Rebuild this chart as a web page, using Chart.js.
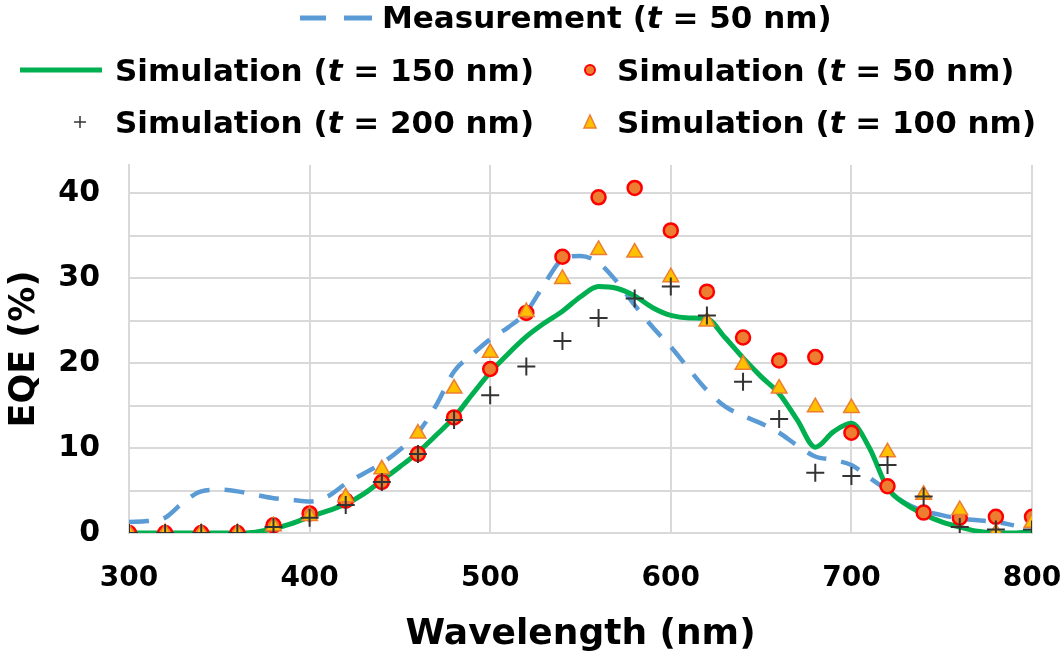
<!DOCTYPE html>
<html>
<head>
<meta charset="utf-8">
<script src="https://cdn.jsdelivr.net/npm/chart.js@4.4.1/dist/chart.umd.min.js"></script>
<style>
  body { margin: 0; background: #fff; }
  #wrap { position: relative; width: 1064px; height: 660px; }
  #eqeChart { position: absolute; left: 0; top: 0; }
  .lg { position: absolute; font-family: "DejaVu Sans", sans-serif; font-weight: bold; font-size: 31px; color: #000; white-space: nowrap; line-height: 36px; }
  .ic { position: absolute; }
</style>
</head>
<body>
<div id="wrap">
  <canvas id="eqeChart" width="1064" height="660"></canvas>

  <svg class="ic" style="left:298px;top:8px" width="80" height="20">
    <line x1="2" y1="10" x2="28" y2="10" stroke="#5B9BD5" stroke-width="5"/>
    <line x1="46" y1="10" x2="74" y2="10" stroke="#5B9BD5" stroke-width="5"/>
  </svg>
  <div class="lg" style="left:382px;top:-1px">Measurement (<i>t</i> = 50 nm)</div>

  <svg class="ic" style="left:18px;top:60px" width="86" height="20">
    <line x1="2" y1="10" x2="84" y2="10" stroke="#00B050" stroke-width="5"/>
  </svg>
  <div class="lg" style="left:115px;top:52px">Simulation (<i>t</i> = 150 nm)</div>

  <svg class="ic" style="left:578px;top:58px" width="24" height="24">
    <circle cx="12" cy="12" r="5" fill="#ED7D31" stroke="#FF0000" stroke-width="2"/>
  </svg>
  <div class="lg" style="left:617px;top:52px">Simulation (<i>t</i> = 50 nm)</div>

  <svg class="ic" style="left:70px;top:112px" width="20" height="20">
    <line x1="10" y1="4" x2="10" y2="16" stroke="#333" stroke-width="1.5"/>
    <line x1="4" y1="10" x2="16" y2="10" stroke="#333" stroke-width="1.5"/>
  </svg>
  <div class="lg" style="left:115px;top:104px">Simulation (<i>t</i> = 200 nm)</div>

  <svg class="ic" style="left:578px;top:110px" width="24" height="24">
    <polygon points="12,5 18,18 6,18" fill="#FFC000" stroke="#ED7D31" stroke-width="1.5"/>
  </svg>
  <div class="lg" style="left:617px;top:104px">Simulation (<i>t</i> = 100 nm)</div>
</div>

<script>
// simulated points, every 20 nm
const markerX = [300, 320, 340, 360, 380, 400, 420, 440, 460, 480, 500, 520, 540,
                 560, 580, 600, 620, 640, 660, 680, 700, 720, 740, 760, 780, 800];
const sim50  = [0, 0, 0, 0, 0.9, 2.3, 3.8, 6.0, 9.3, 13.6, 19.3, 25.9, 32.5,
                39.5, 40.6, 35.6, 28.4, 23.0, 20.3, 20.7, 11.8, 5.5, 2.4, 1.8, 1.9, 1.9];
const sim100 = [0, 0, 0, 0, 0.8, 2.0, 4.2, 7.5, 11.7, 17.0, 21.2, 26.0, 29.9,
                33.3, 33.0, 30.1, 24.9, 19.8, 17.0, 14.8, 14.7, 9.5, 4.5, 2.7, 0, 1.2];
const sim200 = [0, 0, 0, 0, 0.7, 1.8, 3.3, 6.0, 9.3, 13.3, 16.2, 19.6, 22.6,
                25.3, 27.6, 29.0, 25.6, 17.8, 13.4, 7.1, 6.7, 8.0, 4.3, 0.7, 0.4, 0.4];

// t = 150 nm simulation curve, every 10 nm
const curveX = [300, 310, 320, 330, 340, 350, 360, 370, 380, 390, 400, 410, 420, 430, 440,
                450, 460, 470, 480, 490, 500, 510, 520, 530, 540, 550, 560, 570, 580, 590,
                600, 610, 620, 630, 640, 650, 660, 670, 680, 690, 700, 710, 720, 730, 740,
                750, 760, 770, 780, 790, 800];
const sim150 = [0, 0, 0, 0, 0, 0, 0, 0.1, 0.5, 1.1, 1.9, 2.6, 3.4, 4.6, 6.2,
                7.8, 9.5, 11.5, 13.6, 16.3, 18.9, 21.1, 23.1, 24.7, 26.1, 27.8, 29.0, 28.8, 27.9, 26.5,
                25.6, 25.3, 25.2, 23.0, 20.6, 18.4, 16.4, 13.3, 10.1, 11.9, 12.9, 10.0, 5.3, 3.4, 2.2,
                1.3, 0.7, 0.2, 0, 0, 0.2];

// measurement, every 10 nm
const measX = [300, 310, 320, 330, 340, 350, 360, 370, 380, 390, 400, 410, 420, 430, 440,
               450, 460, 470, 480, 490, 500, 510, 520, 530, 540, 550, 560, 570, 580, 590,
               600, 610, 620, 630, 640, 650, 660, 670, 680, 690, 700, 710, 720, 730, 740,
               750, 760, 770, 780, 790];
const measured = [1.3, 1.4, 1.8, 3.6, 4.9, 5.1, 4.9, 4.5, 4.1, 3.9, 3.7, 4.3, 5.8, 7.0, 8.2,
                  9.8, 11.8, 15.0, 19.0, 21.0, 22.8, 24.2, 26.0, 29.3, 32.2, 32.6, 31.8, 29.6, 26.8, 24.2,
                  21.9, 19.3, 16.8, 14.9, 13.8, 12.9, 11.8, 10.3, 9.0, 8.6, 8.0, 6.5, 5.0, 3.5, 2.6,
                  2.1, 1.7, 1.5, 1.3, 0.9];

const xTicks = [300, 400, 500, 600, 700, 800];
const yTicks = [0, 5, 10, 15, 20, 25, 30, 35, 40];

function toPoints(xs, ys) {
    return xs.map((x, i) => ({ x: x, y: ys[i] }));
}

const gridColor = '#D9D9D9';
const fontFamily = '"DejaVu Sans", sans-serif';

const ctx = document.getElementById('eqeChart').getContext('2d');
new Chart(ctx, {
    type: 'line',
    data: {
        datasets: [
            {
                label: 'Simulation (t = 200 nm)',
                data: toPoints(markerX, sim200),
                showLine: false,
                pointStyle: 'cross',
                pointRadius: 9,
                borderColor: '#333333',
                pointBorderWidth: 2,
                order: 0
            },
            {
                label: 'Simulation (t = 100 nm)',
                data: toPoints(markerX, sim100),
                showLine: false,
                pointStyle: 'triangle',
                pointRadius: 9,
                backgroundColor: '#FFC000',
                borderColor: '#ED7D31',
                pointBorderWidth: 1.5,
                order: 1
            },
            {
                label: 'Simulation (t = 50 nm)',
                data: toPoints(markerX, sim50),
                showLine: false,
                pointStyle: 'circle',
                pointRadius: 7,
                backgroundColor: '#ED7D31',
                borderColor: '#FF0000',
                pointBorderWidth: 2.5,
                order: 2
            },
            {
                label: 'Simulation (t = 150 nm)',
                data: toPoints(curveX, sim150),
                borderColor: '#00B050',
                borderWidth: 5,
                pointRadius: 0,
                cubicInterpolationMode: 'monotone',
                order: 3
            },
            {
                label: 'Measurement (t = 50 nm)',
                data: toPoints(measX, measured),
                borderColor: '#5B9BD5',
                borderWidth: 4.5,
                borderDash: [20, 15],
                pointRadius: 0,
                cubicInterpolationMode: 'monotone',
                order: 4
            }
        ]
    },
    options: {
        responsive: false,
        animation: false,
        layout: { padding: { top: 165, right: 32, left: 0, bottom: 0 } },
        plugins: {
            legend: { display: false },
            tooltip: { enabled: false }
        },
        scales: {
            x: {
                type: 'linear',
                min: 300,
                max: 800,
                afterBuildTicks: (scale) => { scale.ticks = xTicks.map(v => ({ value: v })); },
                afterFit: (scale) => {
                    scale.height = 127;
                    scale.paddingLeft = 0;
                    scale.paddingRight = 0;
                },
                grid: { color: gridColor, lineWidth: 2, drawTicks: false },
                border: { color: gridColor, width: 2 },
                ticks: { color: '#000', font: { family: fontFamily, weight: 'bold', size: 28 }, padding: 29 },
                title: {
                    display: true,
                    text: 'Wavelength (nm)',
                    color: '#000',
                    font: { family: fontFamily, weight: 'bold', size: 36 },
                    padding: { top: 2 }
                }
            },
            y: {
                min: 0,
                max: 43.3,
                afterBuildTicks: (scale) => { scale.ticks = yTicks.map(v => ({ value: v })); },
                afterFit: (scale) => { scale.width = 129; },
                grid: { color: gridColor, lineWidth: 2, drawTicks: false },
                border: { color: gridColor, width: 2 },
                ticks: {
                    color: '#000',
                    font: { family: fontFamily, weight: 'bold', size: 30 },
                    padding: 29,
                    callback: (v) => (v % 10 === 0 ? String(v) : '')
                },
                title: {
                    display: true,
                    text: 'EQE (%)',
                    color: '#000',
                    font: { family: fontFamily, weight: 'bold', size: 35 },
                    padding: { bottom: 0 }
                }
            }
        }
    }
});
</script>
</body>
</html>
